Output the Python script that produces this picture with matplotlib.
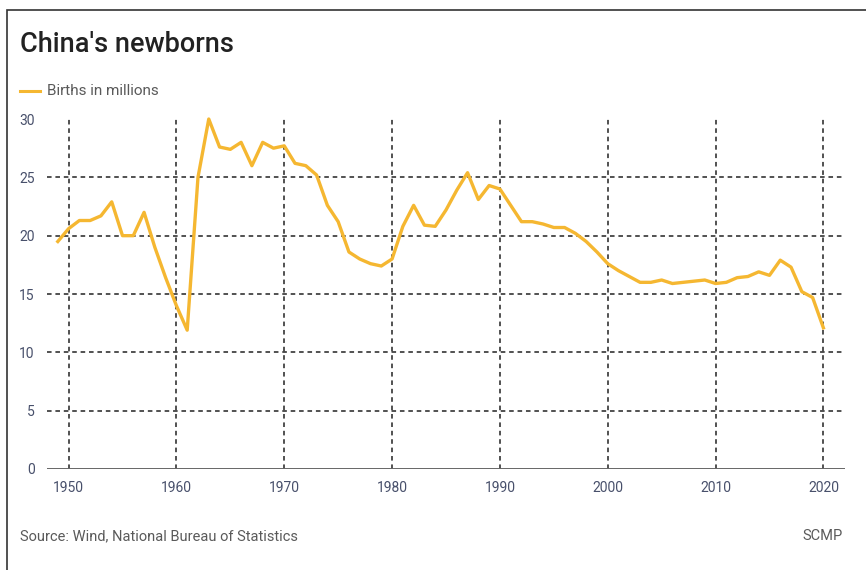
import matplotlib.pyplot as plt
from matplotlib.patches import Rectangle

# Annual births in China, millions
years = list(range(1949, 2021))
births = [
    19.5, 20.6, 21.3, 21.3, 21.7, 22.9, 20.0, 20.0, 22.0, 19.0,   # 1949-1958
    16.4, 14.0, 11.9, 25.0, 30.0, 27.6, 27.4, 28.0, 26.0, 28.0,   # 1959-1968
    27.5, 27.7, 26.2, 26.0, 25.2, 22.6, 21.2, 18.6, 18.0, 17.6,   # 1969-1978
    17.4, 18.0, 20.8, 22.6, 20.9, 20.8, 22.2, 23.9, 25.4, 23.1,   # 1979-1988
    24.3, 24.0, 22.6, 21.2, 21.2, 21.0, 20.7, 20.7, 20.2, 19.5,   # 1989-1998
    18.6, 17.6, 17.0, 16.5, 16.0, 16.0, 16.2, 15.9, 16.0, 16.1,   # 1999-2008
    16.2, 15.9, 16.0, 16.4, 16.5, 16.9, 16.6, 17.9, 17.3, 15.2,   # 2009-2018
    14.7, 12.1,                                                   # 2019-2020
]

x_ticks = [1950, 1960, 1970, 1980, 1990, 2000, 2010, 2020]
y_ticks = [0, 5, 10, 15, 20, 25, 30]

plt.rcParams['font.family'] = ['Roboto', 'DejaVu Sans']

fig = plt.figure(figsize=(8.66, 5.70), dpi=100)
ax = fig.add_axes([0.0543, 0.1772, 0.9214, 0.614])

line_color = '#f5b731'
tick_color = '#48506b'
text_grey = '#5a5a5a'

# dashed grid
for x in x_ticks:
    ax.plot([x, x], [0, 30], color='#222222', lw=1.1, ls=(0, (3, 2.5)), zorder=1)
for y in y_ticks[1:-1]:
    ax.plot([1948, 2022], [y, y], color='#222222', lw=1.1, ls=(0, (3, 2.5)), zorder=1)
ax.axhline(0, color='#666666', lw=1.4, zorder=2)

ax.plot(years, births, color=line_color, lw=2.4, zorder=3, clip_on=False,
        solid_joinstyle='round')

ax.set_xlim(1948, 2022)
ax.set_ylim(0, 30)
ax.set_xticks(x_ticks)
ax.set_yticks(y_ticks)
ax.tick_params(length=0, colors=tick_color, labelsize=10)
ax.tick_params(axis='x', pad=9)
ax.tick_params(axis='y', pad=9)
for s in ax.spines.values():
    s.set_visible(False)

fig.text(20 / 866, 1 - 45 / 570, "China's newborns", fontsize=19.5, color='#222222',
         fontweight='medium', va='center', ha='left')

# legend
fig.add_artist(plt.Line2D([20 / 866, 40 / 866], [1 - 91 / 570, 1 - 91 / 570],
                          color=line_color, lw=2.2))
fig.text(47 / 866, 1 - 91 / 570, 'Births in millions', fontsize=11, color=text_grey,
         va='center', ha='left')

fig.text(20 / 866, 1 - 536 / 570, 'Source: Wind, National Bureau of Statistics',
         fontsize=10.5, color=text_grey, va='center', ha='left')
fig.text(843 / 866, 1 - 536 / 570, 'SCMP', fontsize=10.5, color=text_grey,
         va='center', ha='right')

# frame
fig.add_artist(Rectangle((7 / 866, -0.05), 1.1, 1 - 10 / 570 + 0.05,
                         transform=fig.transFigure, fill=False,
                         edgecolor='#333333', lw=1.2))

fig.savefig('out.png', dpi=100)
